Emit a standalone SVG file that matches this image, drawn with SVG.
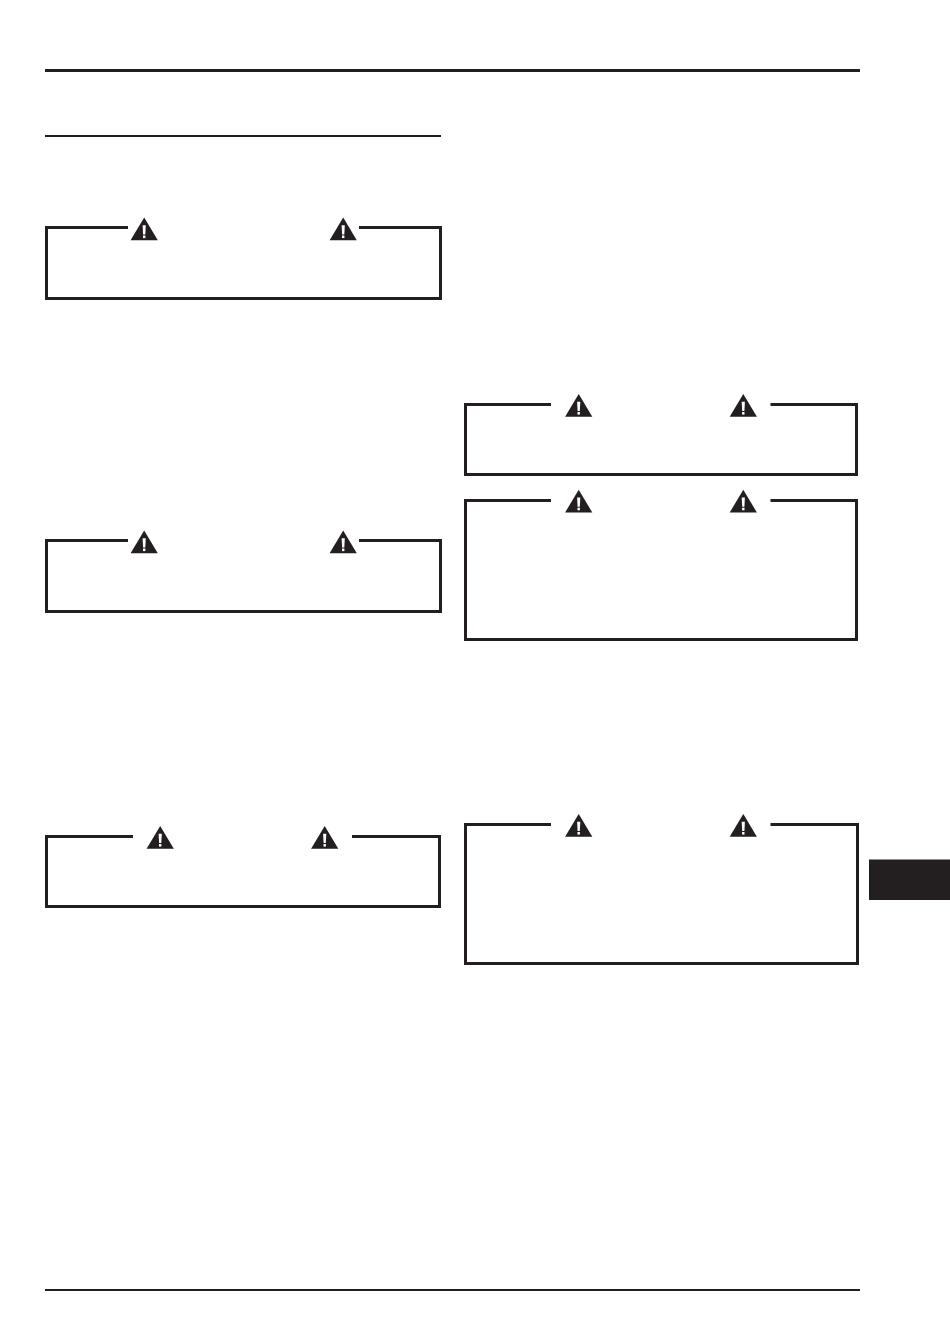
<svg xmlns="http://www.w3.org/2000/svg" width="950" height="1344" viewBox="0 0 950 1344">
<style>
.ink{fill:#231f20}
.frame{fill:none;stroke:#231f20;stroke-width:3;stroke-linejoin:miter;stroke-linecap:butt}
.rule{stroke:#231f20;fill:none}
.mark{fill:#fff}
</style>
<defs>
<g id="warn">
<path class="ink" d="M0 0L13.6 22.8H-13.6Z"/>
<path class="mark" d="M-1.6 7.8H1.6L1.1 17H-1.1Z"/>
<rect class="mark" x="-1.2" y="18" width="2.4" height="2.6"/>
</g>
</defs>
<rect width="950" height="1344" fill="#fff"/>
<g id="page-rules">
<line class="rule" x1="45" y1="70.5" x2="860" y2="70.5" stroke-width="3"/>
<line class="rule" x1="45" y1="136" x2="441" y2="136" stroke-width="2"/>
<line class="rule" x1="45" y1="1290" x2="860" y2="1290" stroke-width="2"/>
</g>
<g id="warning-box-1">
<path class="frame" d="M128 227.5H46.5V298.5H440.5V227.5H359"/>
<use href="#warn" x="144.2" y="217.5"/>
<use href="#warn" x="343.2" y="217.5"/>
</g>
<g id="warning-box-2">
<path class="frame" d="M128 540.5H46.5V611.5H440.5V540.5H359"/>
<use href="#warn" x="144.2" y="530.5"/>
<use href="#warn" x="343.2" y="530.5"/>
</g>
<g id="warning-box-3">
<path class="frame" d="M133 836.5H46.5V906.5H439.5V836.5H352"/>
<use href="#warn" x="160.2" y="826"/>
<use href="#warn" x="324.7" y="826"/>
</g>
<g id="warning-box-4">
<path class="frame" d="M551 404.5H465.5V474.5H856.5V404.5H770.5"/>
<use href="#warn" x="578.7" y="394"/>
<use href="#warn" x="743.3" y="394"/>
</g>
<g id="warning-box-5">
<path class="frame" d="M551 500.5H465.5V639.5H856.5V500.5H770.5"/>
<use href="#warn" x="578.7" y="489.7"/>
<use href="#warn" x="743.3" y="489.7"/>
</g>
<g id="warning-box-6">
<path class="frame" d="M551 824.5H465.5V963.5H857.5V824.5H770.5"/>
<use href="#warn" x="578.7" y="814"/>
<use href="#warn" x="743.3" y="814"/>
</g>
<g id="section-tab">
<rect class="ink" x="869" y="859.5" width="81" height="40.5"/>
</g>
</svg>
